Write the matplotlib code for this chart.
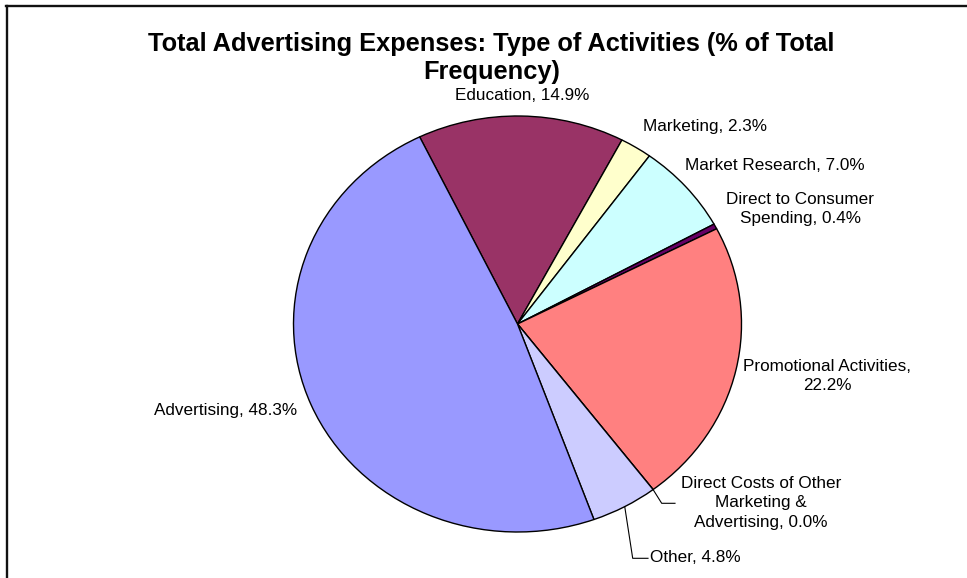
import matplotlib
matplotlib.use("Agg")
import matplotlib.pyplot as plt
import numpy as np
from matplotlib.lines import Line2D
from matplotlib.transforms import IdentityTransform

plt.rcParams["font.family"] = ["Liberation Sans", "DejaVu Sans"]

# Activity shares, in drawing order (clockwise)
categories = [
    "Education",
    "Marketing",
    "Market Research",
    "Direct to Consumer\nSpending",
    "Promotional Activities,\n",
    "Direct Costs of Other\nMarketing &\nAdvertising",
    "Other",
    "Advertising",
]
shares = [14.9, 2.3, 7.0, 0.4, 22.2, 0.0, 4.8, 48.3]
colors = ["#993366", "#FFFFCC", "#CCFFFF", "#660066",
          "#FF8080", "#0066CC", "#CCCCFF", "#9999FF"]

W, H = 967, 578


def fx(x):
    return x / W


def fy(y):
    return 1 - y / H


fig = plt.figure(figsize=(W / 100, H / 100), dpi=100)
fig.patch.set_facecolor("white")

# pie area (slightly wider than tall)
pl, pr, pt, pb = 293.5, 741.5, 116.0, 532.0
ax = fig.add_axes([fx(pl), fy(pb), (pr - pl) / W, (pb - pt) / H])
wedges, _ = ax.pie(shares, colors=colors, startangle=115.9, counterclock=False,
                   wedgeprops=dict(edgecolor="black", linewidth=1.0))
ax.set_aspect("auto")
ax.set_xlim(-1, 1)
ax.set_ylim(-1, 1)
ax.axis("off")

fig.text(fx(491.5), fy(44), "Total Advertising Expenses: Type of Activities (% of Total",
         ha="center", va="center", fontsize=18.3, fontweight="bold")
fig.text(fx(491.5), fy(72), "Frequency)",
         ha="center", va="center", fontsize=18.3, fontweight="bold")

fs = 12.3


def label(i):
    name = categories[i].rstrip(",\n")
    if categories[i].endswith(",\n"):
        return f"{name},\n{shares[i]:.1f}%"
    return f"{name}, {shares[i]:.1f}%"


# label anchors: (x, y, ha)
anchors = {
    0: (522, 95, "center"),
    1: (705, 127, "center"),
    2: (775, 165, "center"),
    3: (800, 209, "center"),
    4: (827, 376, "center"),
    5: (761, 503, "center"),
    6: (650, 558, "left"),
    7: (226, 411, "center"),
}
for i, (x, y, ha) in anchors.items():
    fig.text(fx(x), fy(y), label(i), ha=ha, va="center", fontsize=fs,
             linespacing=1.36, multialignment="center")

# leader lines from the rim of small wedges to their labels
fig.canvas.draw()


def rim_point(w, frac):
    ang = np.deg2rad(w.theta1 + (w.theta2 - w.theta1) * frac)
    return ax.transData.transform((np.cos(ang), np.sin(ang)))


leaders = {5: ((661.7, 503.3), 675.0), 6: ((632.7, 558.3), 648.0)}
for i, (elbow, xend) in leaders.items():
    sx, sy = rim_point(wedges[i], 0.5)
    ex, ey = elbow[0], H - elbow[1]
    fig.add_artist(Line2D([sx, ex, xend], [sy, ey, ey], color="black",
                          linewidth=0.8, transform=IdentityTransform()))

# chart frame (top and left edges)
fig.add_artist(Line2D([6, W], [H - 5.5, H - 5.5], color="#111111", linewidth=1.7,
                      transform=IdentityTransform()))
fig.add_artist(Line2D([7, 7], [0, H - 5.5], color="#111111", linewidth=1.7,
                      transform=IdentityTransform()))

fig.savefig("out.png", dpi=100)
